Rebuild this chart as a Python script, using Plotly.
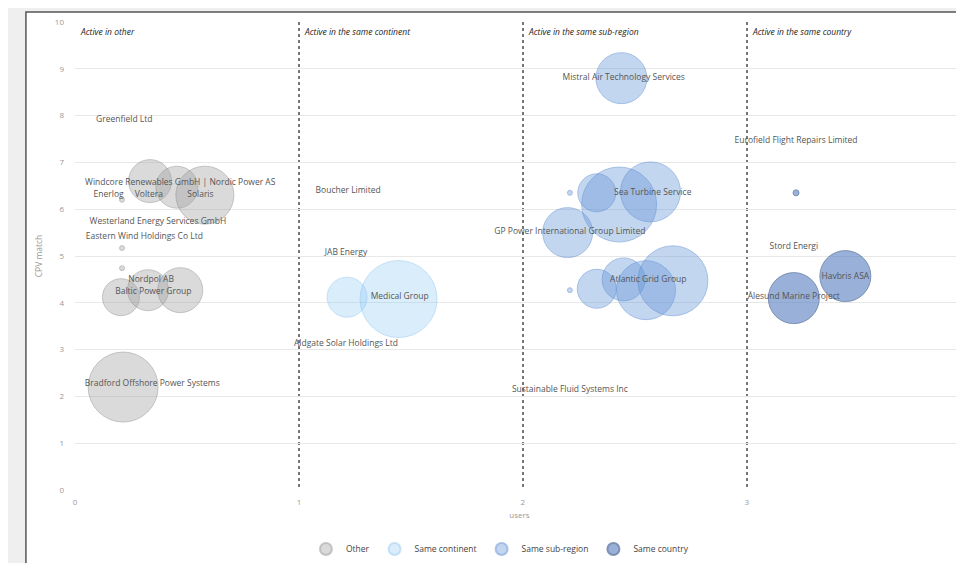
import plotly.graph_objects as go

# ---- data ----
categories = ["Other", "Same continent", "Same sub-region", "Same country"]

other_x = [0.335, 0.455, 0.58, 0.205, 0.326, 0.47, 0.215, 0.21, 0.21, 0.21]
other_y = [6.6, 6.47, 6.3, 4.12, 4.27, 4.27, 2.2, 6.2, 5.17, 4.74]
other_s = [43, 42, 58, 37, 41, 45, 70, 5, 5, 5]

cont_x = [1.215, 1.445]
cont_y = [4.12, 4.08]
cont_s = [40, 77]

sub_x = [2.44, 2.43, 2.57, 2.33, 2.2, 2.33, 2.45, 2.55, 2.67, 2.21, 2.21]
sub_y = [8.8, 6.1, 6.37, 6.35, 5.5, 4.3, 4.5, 4.27, 4.47, 6.35, 4.27]
sub_s = [51, 75, 60, 38, 50, 39, 43, 59, 70, 5, 5]

country_x = [3.21, 3.44, 3.22]
country_y = [4.1, 4.57, 6.35]
country_s = [51, 51, 6]

label_x = [0.22, 0.47, 0.15, 0.33, 0.56, 0.37, 0.31, 0.34, 0.35, 0.345,
           1.22, 1.21, 1.45, 1.21,
           2.45, 2.58, 2.21, 2.56, 2.21,
           3.22, 3.21, 3.21, 3.44]
label_y = [7.91, 6.56, 6.3, 6.3, 6.3, 5.73, 5.4, 4.49, 4.23, 2.26,
           6.39, 5.06, 4.12, 3.12,
           8.8, 6.35, 5.51, 4.49, 2.14,
           7.46, 5.2, 4.12, 4.55]
label_text = ["Greenfield Ltd", "Windcore Renewables GmbH | Nordic Power AS",
              "Enerlog", "Voltera", "Solaris",
              "Westerland Energy Services GmbH", "Eastern Wind Holdings Co Ltd",
              "Nordpol AB", "Baltic Power Group", "Bradford Offshore Power Systems",
              "Boucher Limited", "JAB Energy", "Medical Group", "Aldgate Solar Holdings Ltd",
              "Mistral Air Technology Services", "Sea Turbine Service",
              "GP Power International Group Limited", "Atlantic Grid Group",
              "Sustainable Fluid Systems Inc",
              "Eurofield Flight Repairs Limited", "Stord Energi",
              "Ålesund Marine Project", "Havbris ASA"]

sections = ["Active in other", "Active in the same continent",
            "Active in the same sub-region", "Active in the same country"]
section_x = [0, 1, 2, 3]

x_ticks = [0, 1, 2, 3]
y_ticks = list(range(0, 11))

# ---- styles ----
fills = ["rgba(160,160,160,0.55)", "rgba(140,200,245,0.45)",
         "rgba(100,150,215,0.55)", "rgba(85,125,190,0.85)"]
lines = ["rgba(130,130,130,0.6)", "rgba(130,190,240,0.6)",
         "rgba(90,140,210,0.7)", "rgba(60,90,140,0.9)"]

fig = go.Figure()
series = [(other_x, other_y, other_s), (cont_x, cont_y, cont_s),
          (sub_x, sub_y, sub_s), (country_x, country_y, country_s)]
for name, (xs, ys, ss), fc, lc in zip(categories, series, fills, lines):
    fig.add_trace(go.Scatter(
        x=xs, y=ys, mode="markers", name=name,
        marker=dict(size=ss, sizemode="diameter", color=fc,
                    line=dict(color=lc, width=1)),
        hoverinfo="skip"))

fig.add_trace(go.Scatter(
    x=label_x, y=label_y, mode="text", text=label_text,
    textfont=dict(family="Open Sans", size=8.5, color="#555"),
    showlegend=False, hoverinfo="skip"))

for sx, st in zip(section_x, sections):
    fig.add_annotation(x=sx, y=9.95, xref="x", yref="y", text=st,
                       showarrow=False, xanchor="left", yanchor="top", xshift=3,
                       font=dict(family="Open Sans", size=8.5, color="#222", style="italic"))

# panel frame
fig.add_shape(type="rect", xref="paper", yref="paper",
              x0=-0.0552, x1=1.05, y0=-0.3, y1=1.0214,
              fillcolor="white", line=dict(color="#555", width=1.5), layer="below")

fig.update_layout(
    width=956, height=556,
    margin=dict(l=67, r=0, t=14, b=74),
    paper_bgcolor="#efefef", plot_bgcolor="white",
    font=dict(family="Open Sans", size=8, color="#999"),
    showlegend=True,
    legend=dict(orientation="h", x=0.478, xanchor="center", y=-0.126, yanchor="middle",
                font=dict(size=8.5, color="#444"), itemsizing="constant",
                itemwidth=30, entrywidthmode="pixels", entrywidth=0,
                bgcolor="rgba(0,0,0,0)"),
    xaxis=dict(range=[0, 3.97], tickvals=x_ticks, showgrid=True, gridcolor="#777",
               griddash="dot", gridwidth=1.5, zeroline=False, showline=False,
               ticks="", ticklabelstandoff=6,
               title=dict(text="users", font=dict(size=8, color="#999"), standoff=6)),
    yaxis=dict(range=[0, 10], tickvals=y_ticks, showgrid=True, gridcolor="#e8e8e8",
               gridwidth=1, zeroline=False, showline=False, ticks="",
               ticklabelstandoff=10,
               title=dict(text="CPV match", font=dict(size=8.5, color="#999"), standoff=10)),
)

fig.write_html("out.html")
